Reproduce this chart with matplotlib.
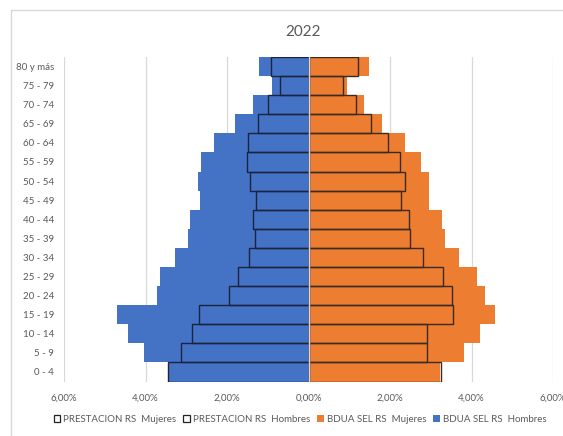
import numpy as np
import matplotlib
matplotlib.use("Agg")
import matplotlib.pyplot as plt
from matplotlib.patches import Patch, Rectangle


AGE_GROUPS = ["0 - 4", "5 - 9", "10 - 14", "15 - 19", "20 - 24", "25 - 29",
              "30 - 34", "35 - 39", "40 - 44", "45 - 49", "50 - 54", "55 - 59",
              "60 - 64", "65 - 69", "70 - 74", "75 - 79", "80 y más"]

# percentages of total population
BDUA_HOMBRES = [3.43, 4.03, 4.44, 4.69, 3.72, 3.65, 3.27, 2.96, 2.91, 2.66,
                2.70, 2.64, 2.32, 1.80, 1.35, 0.90, 1.22]
BDUA_MUJERES = [3.23, 3.82, 4.22, 4.58, 4.34, 4.14, 3.69, 3.35, 3.28, 2.96,
                2.96, 2.77, 2.36, 1.80, 1.35, 0.95, 1.48]
PRESTACION_HOMBRES = [3.45, 3.12, 2.87, 2.68, 1.94, 1.73, 1.47, 1.32, 1.35, 1.29,
                      1.44, 1.52, 1.49, 1.24, 0.99, 0.71, 0.93]
PRESTACION_MUJERES = [3.25, 2.92, 2.91, 3.55, 3.51, 3.31, 2.82, 2.50, 2.46, 2.27,
                      2.36, 2.25, 1.95, 1.54, 1.17, 0.85, 1.22]

X_TICKS = [-6, -4, -2, 0, 2, 4, 6]

BLUE = "#4472C4"
ORANGE = "#ED7D31"
GRID = "#D9D9D9"
TEXT = "#595959"

plt.rcParams["font.family"] = ["Lato", "DejaVu Sans"]

fig = plt.figure(figsize=(5.63, 4.36), dpi=100)
ax = fig.add_axes([64 / 563, 1 - 381.5 / 436, (553 - 64) / 563, (381.5 - 57) / 436])

y = np.arange(len(AGE_GROUPS))
hombres = -np.array(BDUA_HOMBRES)
prest_h = -np.array(PRESTACION_HOMBRES)

ax.barh(y, hombres, height=1.0, color=BLUE, zorder=2)
ax.barh(y, BDUA_MUJERES, height=1.0, color=ORANGE, zorder=2)
ax.barh(y, prest_h, height=1.0, facecolor="none", edgecolor="#1c2340", linewidth=1.0, zorder=3)
ax.barh(y, PRESTACION_MUJERES, height=1.0, facecolor="none", edgecolor="#3b2a20", linewidth=1.0, zorder=3)

ax.axvline(0, color=GRID, linewidth=1.0, zorder=4)
for t in X_TICKS:
    if t != 0:
        ax.axvline(t, color=GRID, linewidth=0.9, zorder=1)

ax.set_xlim(-6, 6)
ax.set_ylim(-0.5, len(AGE_GROUPS) - 0.5)
ax.set_xticks(X_TICKS)
ax.set_xticklabels([f"{abs(t):.2f}%".replace(".", ",") for t in X_TICKS])
ax.set_yticks(y)
ax.set_yticklabels(AGE_GROUPS)
ax.tick_params(axis="both", length=0, labelsize=7, colors=TEXT)
ax.tick_params(axis="x", pad=9)
ax.tick_params(axis="y", pad=7)
for spine in ax.spines.values():
    spine.set_visible(False)

fig.text(303.5 / 563, 1 - 32 / 436, "2022", ha="center", va="center",
         fontsize=11, color=TEXT)

handles = [
    Patch(facecolor="white", edgecolor="#222222", linewidth=0.9, label="PRESTACION RS  Mujeres"),
    Patch(facecolor="white", edgecolor="#222222", linewidth=0.9, label="PRESTACION RS  Hombres"),
    Patch(facecolor=ORANGE, label="BDUA SEL RS  Mujeres"),
    Patch(facecolor=BLUE, label="BDUA SEL RS  Hombres"),
]
fig.legend(handles=handles, loc="center", bbox_to_anchor=(300 / 563, 1 - 419 / 436),
           ncol=4, frameon=False, fontsize=7, labelcolor=TEXT,
           handlelength=0.7, handleheight=0.7, handletextpad=0.3, columnspacing=0.7)

fig.add_artist(Rectangle((11 / 563, -0.05), 1.0, 1.05 - 10 / 436,
                         transform=fig.transFigure, fill=False,
                         edgecolor=GRID, linewidth=1.0))

fig.savefig("out.png", dpi=100)
